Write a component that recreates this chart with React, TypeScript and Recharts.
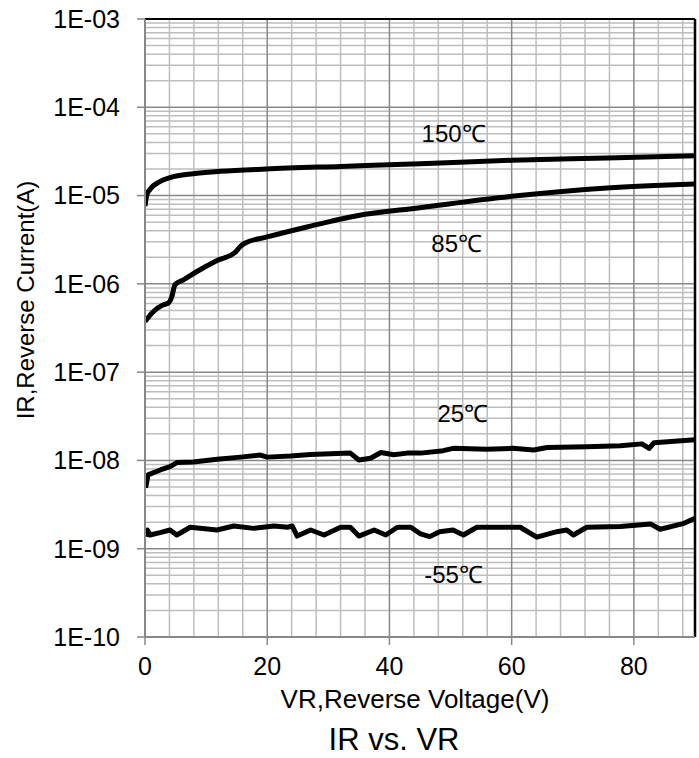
import React from 'react'
import {
  LineChart,
  Line,
  XAxis,
  YAxis,
  ReferenceLine,
  ReferenceDot,
} from 'recharts'

// tick positions
const xTicks = [0, 20, 40, 60, 80]
const xMinor = [4, 8, 12, 16, 24, 28, 32, 36, 44, 48, 52, 56, 64, 68, 72, 76, 84, 88]
const yTicks = [1e-10, 1e-9, 1e-8, 1e-7, 1e-6, 1e-5, 1e-4, 1e-3]
const yMinorSteps = [2, 3, 4, 5, 6, 7, 8, 9]

// 150℃
const v150 = [0, 0.3, 0.8, 2.5, 4.1, 7.9, 12.3, 19.8, 32, 45, 60, 75.6, 90]
const i150 = [7.6e-6, 1.02e-5, 1.17e-5, 1.45e-5, 1.6e-5, 1.77e-5, 1.88e-5, 2.0e-5, 2.14e-5, 2.29e-5, 2.51e-5, 2.67e-5, 2.83e-5]

// 85℃
const v85 = [0, 1.4, 3.0, 3.8, 4.4, 4.9, 6.3, 8.5, 11.8, 14.8, 15.6, 16.4, 20, 26.5, 34.7, 45, 60, 75.6, 90]
const i85 = [3.75e-7, 4.86e-7, 5.79e-7, 6.05e-7, 7.2e-7, 9.77e-7, 1.11e-6, 1.38e-6, 1.84e-6, 2.29e-6, 2.65e-6, 2.9e-6, 3.4e-6, 4.41e-6, 5.92e-6, 7.29e-6, 9.8e-6, 1.22e-5, 1.35e-5]

// 25℃
const v25 = [0.1, 0.5, 2.5, 4.1, 5.2, 7.9, 11.8, 15.6, 18.9, 20, 23.8, 27.1, 33.6, 35, 36.9, 38.6, 40.7, 42.9, 45.1, 48.8, 50.4, 55.9, 60.2, 63.6, 65.8, 72.3, 77.8, 81.3, 82.5, 83.3, 90]
const i25 = [4.9e-9, 6.85e-9, 7.8e-9, 8.5e-9, 9.45e-9, 9.6e-9, 1.03e-8, 1.09e-8, 1.15e-8, 1.09e-8, 1.12e-8, 1.17e-8, 1.21e-8, 1.01e-8, 1.06e-8, 1.23e-8, 1.16e-8, 1.21e-8, 1.21e-8, 1.29e-8, 1.37e-8, 1.34e-8, 1.37e-8, 1.31e-8, 1.4e-8, 1.43e-8, 1.47e-8, 1.54e-8, 1.37e-8, 1.59e-8, 1.71e-8]

// -55℃
const v55 = [0.16, 0.38, 0.82, 2.46, 4.1, 5.2, 7.4, 11.8, 14.5, 17.8, 21.1, 23.3, 24.1, 24.9, 27.1, 29.3, 32, 33.6, 35, 37.5, 39.4, 41.3, 43.5, 45.1, 46.6, 48.2, 50.4, 52.1, 54.3, 61.4, 64.1, 67.4, 69, 70.1, 72.3, 77.8, 82.7, 84.3, 88.2, 90]
const i55 = [1.37e-9, 1.63e-9, 1.43e-9, 1.52e-9, 1.63e-9, 1.43e-9, 1.75e-9, 1.63e-9, 1.81e-9, 1.7e-9, 1.81e-9, 1.75e-9, 1.81e-9, 1.39e-9, 1.63e-9, 1.43e-9, 1.75e-9, 1.75e-9, 1.39e-9, 1.63e-9, 1.43e-9, 1.75e-9, 1.75e-9, 1.47e-9, 1.37e-9, 1.56e-9, 1.63e-9, 1.43e-9, 1.75e-9, 1.75e-9, 1.35e-9, 1.56e-9, 1.63e-9, 1.43e-9, 1.75e-9, 1.78e-9, 1.91e-9, 1.66e-9, 1.94e-9, 2.21e-9]

// curve labels: [text, V, I]
const curveLabels: [string, number, number][] = [
  ['150℃', 50.5, 5.1e-5],
  ['85℃', 51, 2.9e-6],
  ['25℃', 52, 3.4e-8],
  ['-55℃', 50.5, 5.1e-10],
]

const toPoints = (v: number[], i: number[]) => v.map((x, k) => ({ v: x, i: i[k] }))

const yMinor = yTicks.slice(0, -1).flatMap(d => yMinorSteps.map(s => s * d))

const fmtExp = (val: number) => {
  const e = Math.round(Math.log10(val))
  return `1E-${String(-e).padStart(2, '0')}`
}

const font = '"Liberation Sans", Arial, sans-serif'
const minorColor = '#bdbdbd'
const majorColor = '#888'

export default function App() {
  return (
    <div style={{ position: 'absolute', left: 0, top: 0, width: 699, height: 758, fontFamily: font, background: '#fff' }}>
      <LineChart width={699} height={758} margin={{ top: 19, right: 4, left: 0, bottom: 0 }}>
        <XAxis
          type="number"
          dataKey="v"
          domain={[0, 90]}
          ticks={xTicks}
          allowDataOverflow
          height={121}
          tickSize={8}
          tickMargin={12}
          axisLine={{ stroke: majorColor, strokeWidth: 2 }}
          tickLine={{ stroke: majorColor, strokeWidth: 1.5 }}
          tick={{ fontSize: 25, fill: '#000' }}
        />
        <YAxis
          scale="log"
          domain={[1e-10, 1e-3]}
          ticks={yTicks}
          allowDataOverflow
          width={145}
          tickSize={8}
          tickMargin={17}
          tickFormatter={fmtExp}
          axisLine={{ stroke: majorColor, strokeWidth: 2 }}
          tickLine={{ stroke: majorColor, strokeWidth: 1.5 }}
          tick={{ fontSize: 25, fill: '#000' }}
        />
        {yMinor.map(v => (
          <ReferenceLine key={'hm' + v} y={v} stroke={minorColor} strokeWidth={1.5} />
        ))}
        {xMinor.map(v => (
          <ReferenceLine key={'vm' + v} x={v} stroke={minorColor} strokeWidth={1.5} />
        ))}
        {yTicks.slice(1, -1).map(v => (
          <ReferenceLine key={'hM' + v} y={v} stroke={majorColor} strokeWidth={1.5} />
        ))}
        {xTicks.slice(1).map(v => (
          <ReferenceLine key={'vM' + v} x={v} stroke={majorColor} strokeWidth={1.5} />
        ))}
        <ReferenceLine y={1e-3} stroke="#000" strokeWidth={2} />
        <ReferenceLine x={90} stroke="#000" strokeWidth={2.5} />
        <Line data={toPoints(v150, i150)} dataKey="i" type="monotone" stroke="#000" strokeWidth={5} dot={false} isAnimationActive={false} />
        <Line data={toPoints(v85, i85)} dataKey="i" type="monotone" stroke="#000" strokeWidth={5} dot={false} isAnimationActive={false} />
        <Line data={toPoints(v25, i25)} dataKey="i" type="linear" stroke="#000" strokeWidth={5} strokeLinejoin="round" dot={false} isAnimationActive={false} />
        <Line data={toPoints(v55, i55)} dataKey="i" type="linear" stroke="#000" strokeWidth={5} strokeLinejoin="round" dot={false} isAnimationActive={false} />
        {curveLabels.map(([t, x, y]) => (
          <ReferenceDot
            key={t}
            x={x}
            y={y}
            r={0}
            fill="none"
            stroke="none"
            label={{ value: t, position: 'center', fontSize: 24, fill: '#000' }}
          />
        ))}
      </LineChart>
      <div style={{ position: 'absolute', left: 26, top: 300, transform: 'translate(-50%, -50%) rotate(-90deg)', whiteSpace: 'nowrap', fontSize: 24, lineHeight: 1 }}>
        IR,Reverse Current(A)
      </div>
      <div style={{ position: 'absolute', left: 415, top: 699, transform: 'translate(-50%, -50%)', whiteSpace: 'nowrap', fontSize: 26, lineHeight: 1 }}>
        VR,Reverse Voltage(V)
      </div>
      <div style={{ position: 'absolute', left: 394, top: 739, transform: 'translate(-50%, -50%)', whiteSpace: 'nowrap', fontSize: 31, lineHeight: 1 }}>
        IR vs. VR
      </div>
    </div>
  )
}
